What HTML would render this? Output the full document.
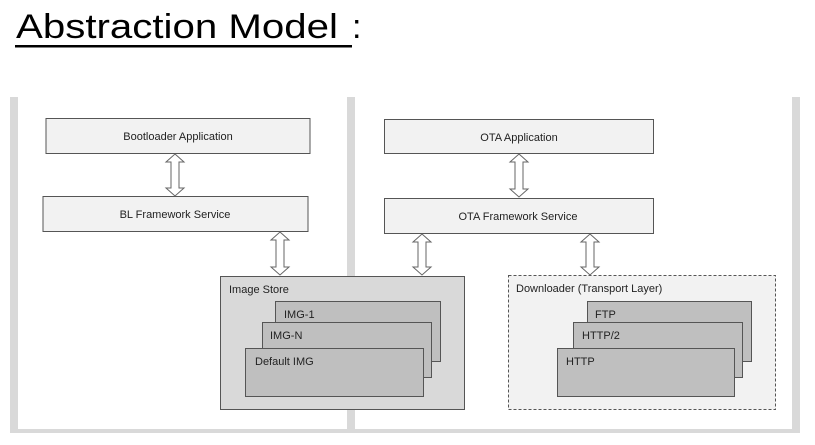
<!DOCTYPE html>
<html><head><meta charset="utf-8"><style>
html,body{margin:0;padding:0;background:#fff;width:815px;height:445px;overflow:hidden}
svg{display:block}
text{font-family:"Liberation Sans",sans-serif;fill:#222}
</style></head><body>
<svg width="815" height="445" viewBox="0 0 815 445" xmlns="http://www.w3.org/2000/svg">
<defs>
<g id="da"><polygon points="0,0 9,8 4,8 4,-8 9,-8 0,0" fill="none"/></g>
</defs>
<text x="16" y="38" font-size="34" textLength="322" lengthAdjust="spacingAndGlyphs" style="fill:#000">Abstraction Model</text>
<text x="352" y="38" font-size="34" style="fill:#000">:</text>
<rect x="15" y="45" width="337" height="2.5" fill="#000"/>

<!-- frame -->
<rect x="10" y="97" width="8" height="336" fill="#d9d9d9"/>
<rect x="347" y="97" width="8" height="336" fill="#d9d9d9"/>
<rect x="792" y="97" width="8" height="336" fill="#d9d9d9"/>
<rect x="10" y="429" width="790" height="4" fill="#d9d9d9"/>

<g stroke="#555" stroke-width="1">
<rect x="46" y="118.5" width="264" height="35" fill="#f2f2f2"/>
<rect x="43" y="196.5" width="265" height="35" fill="#f2f2f2"/>
<rect x="384.5" y="119.5" width="269" height="34" fill="#f2f2f2"/>
<rect x="384.5" y="198.5" width="269" height="35" fill="#f2f2f2"/>
<rect x="220.5" y="276.5" width="244" height="133" fill="#d9d9d9"/>
<rect x="275.5" y="301.5" width="165" height="60" fill="#bfbfbf"/>
<rect x="262.5" y="322.5" width="169" height="55" fill="#bfbfbf"/>
<rect x="245.5" y="348.5" width="178" height="48" fill="#bfbfbf"/>
<rect x="508.5" y="275.5" width="267" height="134" fill="#f2f2f2" stroke-dasharray="3,2"/>
<rect x="587.5" y="301.5" width="164" height="60" fill="#bfbfbf"/>
<rect x="573.5" y="322.5" width="169" height="55" fill="#bfbfbf"/>
<rect x="557.5" y="348.5" width="177" height="48" fill="#bfbfbf"/>
</g>

<g fill="#fff" stroke="#666" stroke-width="1">
<!-- double arrows: center x, y1, y2 -->
<polygon points="175,154 184,162 179,162 179,188 184,188 175,196 166,188 171,188 171,162 166,162"/>
<polygon points="280,232 289,240 284,240 284,267 289,267 280,275 271,267 276,267 276,240 271,240"/>
<polygon points="519,154 528,162 523,162 523,189 528,189 519,197 510,189 515,189 515,162 510,162"/>
<polygon points="422,234 431,242 426,242 426,267 431,267 422,275 413,267 418,267 418,242 413,242"/>
<polygon points="590,234 599,242 594,242 594,267 599,267 590,275 581,267 586,267 586,242 581,242"/>
</g>

<g font-size="11">
<text x="178" y="140" text-anchor="middle">Bootloader Application</text>
<text x="175" y="218" text-anchor="middle">BL Framework Service</text>
<text x="519" y="141" text-anchor="middle">OTA Application</text>
<text x="518" y="220" text-anchor="middle">OTA Framework Service</text>
<text x="229" y="293">Image Store</text>
<text x="284" y="318">IMG-1</text>
<text x="270" y="339">IMG-N</text>
<text x="255" y="365">Default IMG</text>
<text x="516" y="292">Downloader (Transport Layer)</text>
<text x="595" y="318">FTP</text>
<text x="582" y="339">HTTP/2</text>
<text x="566" y="365">HTTP</text>
</g>
</svg>
</body></html>
